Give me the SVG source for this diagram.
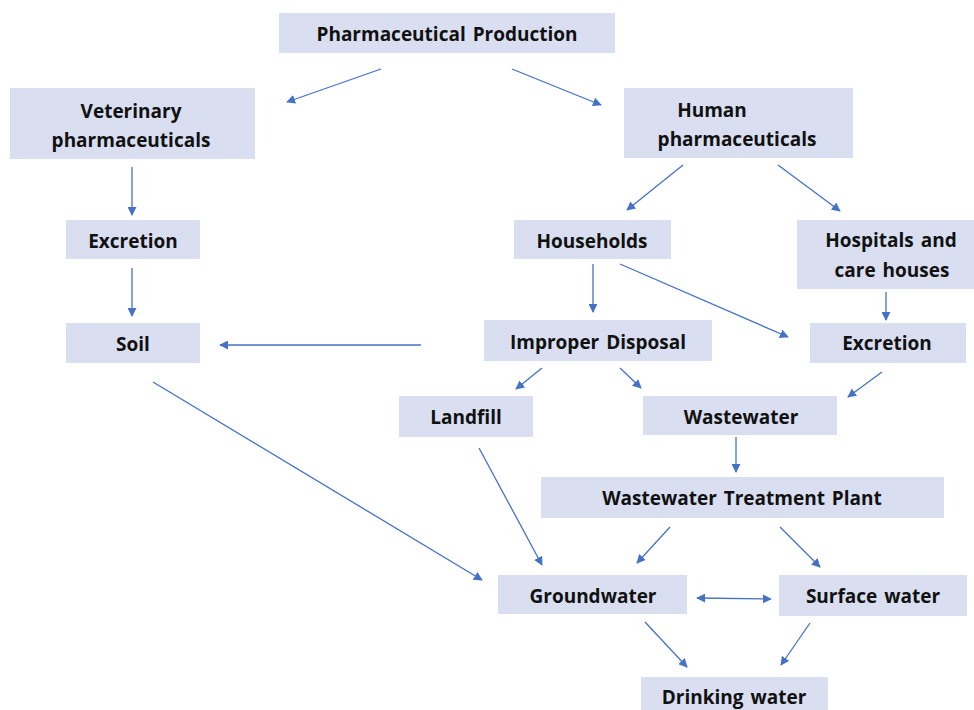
<svg xmlns="http://www.w3.org/2000/svg" width="974" height="710" viewBox="0 0 974 710">
<defs>
<marker id="ah" viewBox="0 0 10 10" refX="9" refY="5" markerWidth="9" markerHeight="9" markerUnits="userSpaceOnUse" orient="auto-start-reverse">
<path d="M0,0 L10,5 L0,10 Z" fill="#4472C4"/>
</marker>
<style>
.box{fill:#D9DFF0;}
.t{font-family:"Open Sans","Liberation Sans",sans-serif;font-weight:bold;font-size:19px;fill:#111;text-anchor:middle;word-spacing:2px;}
.c{stroke:#4472C4;stroke-width:1.3;fill:none;marker-end:url(#ah);}
</style>
</defs>
<rect width="974" height="710" fill="#fff"/>
<g id="pharmaceutical-production"><rect class="box" x="279" y="13" width="336" height="40"/><text class="t" x="447" y="41">Pharmaceutical Production</text></g>
<g id="veterinary"><rect class="box" x="10" y="88" width="245" height="71"/><text class="t" x="131" y="118">Veterinary</text><text class="t" x="131" y="147">pharmaceuticals</text></g>
<g id="human"><rect class="box" x="624" y="88" width="229" height="70"/><text class="t" x="712" y="117">Human</text><text class="t" x="737" y="146">pharmaceuticals</text></g>
<g id="excretion-vet"><rect class="box" x="66" y="220" width="134" height="39"/><text class="t" x="133" y="248">Excretion</text></g>
<g id="soil"><rect class="box" x="66" y="323" width="134" height="40"/><text class="t" x="133" y="351">Soil</text></g>
<g id="households"><rect class="box" x="514" y="220" width="157" height="39"/><text class="t" x="592" y="248">Households</text></g>
<g id="hospitals"><rect class="box" x="797" y="220" width="177" height="69"/><text class="t" x="891" y="247">Hospitals and</text><text class="t" x="892" y="277">care houses</text></g>
<g id="improper-disposal"><rect class="box" x="484" y="320" width="228" height="41"/><text class="t" x="598" y="349">Improper Disposal</text></g>
<g id="excretion-human"><rect class="box" x="810" y="323" width="156" height="40"/><text class="t" x="887" y="350">Excretion</text></g>
<g id="landfill"><rect class="box" x="399" y="396" width="134" height="41"/><text class="t" x="466" y="424">Landfill</text></g>
<g id="wastewater"><rect class="box" x="643" y="396" width="194" height="39"/><text class="t" x="741" y="424">Wastewater</text></g>
<g id="wwtp"><rect class="box" x="541" y="477" width="403" height="41"/><text class="t" x="742" y="505">Wastewater Treatment Plant</text></g>
<g id="groundwater"><rect class="box" x="498" y="575" width="189" height="39"/><text class="t" x="593" y="603">Groundwater</text></g>
<g id="surface-water"><rect class="box" x="779" y="575" width="188" height="41"/><text class="t" x="873" y="603">Surface water</text></g>
<g id="drinking-water"><rect class="box" x="641" y="677" width="187" height="40"/><text class="t" x="734" y="704">Drinking water</text></g>
<g id="connectors">
<line class="c" x1="381" y1="69" x2="287" y2="102"/>
<line class="c" x1="512" y1="69" x2="601" y2="105"/>
<line class="c" x1="132" y1="167" x2="132" y2="215"/>
<line class="c" x1="132" y1="268" x2="132" y2="316"/>
<line class="c" x1="683" y1="165" x2="627" y2="210"/>
<line class="c" x1="778" y1="165" x2="840" y2="211"/>
<line class="c" x1="593" y1="264" x2="593" y2="312"/>
<line class="c" x1="620" y1="264" x2="788" y2="337"/>
<line class="c" x1="886" y1="292" x2="886" y2="320"/>
<line class="c" x1="421" y1="345" x2="220" y2="345"/>
<line class="c" x1="542" y1="368" x2="516" y2="389"/>
<line class="c" x1="620" y1="368" x2="641" y2="388"/>
<line class="c" x1="882" y1="372" x2="848" y2="397"/>
<line class="c" x1="736" y1="437" x2="736" y2="472"/>
<line class="c" x1="153" y1="382" x2="482" y2="580"/>
<line class="c" x1="479" y1="448" x2="542" y2="565"/>
<line class="c" x1="670" y1="527" x2="637" y2="563"/>
<line class="c" x1="780" y1="527" x2="820" y2="567"/>
<line class="c" x1="697" y1="598" x2="771" y2="599" style="marker-start:url(#ah)"/>
<line class="c" x1="645" y1="622" x2="687" y2="667"/>
<line class="c" x1="810" y1="623" x2="781" y2="665"/>
</g>
</svg>
